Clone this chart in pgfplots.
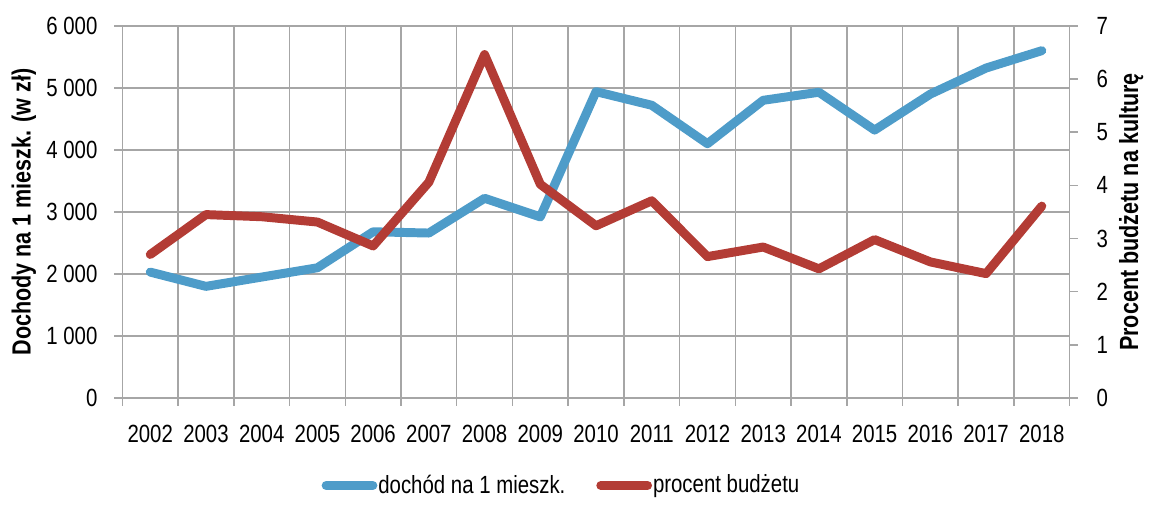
\documentclass[border=0pt]{standalone}
\usepackage{fontspec}
\setmainfont{Liberation Sans}[FakeStretch=0.82]
\usepackage{pgfplots}
\pgfplotsset{compat=1.18}
\definecolor{cblue}{HTML}{4E9CC9}
\definecolor{cred}{HTML}{B33C35}
\definecolor{cgrid}{HTML}{A6A6A6}
\begin{document}
\begin{tikzpicture}[font=\fontsize{12.5pt}{15pt}\selectfont]
\begin{axis}[name=ax, width=476pt, height=187pt, scale only axis,
  xmin=-0.5, xmax=16.5, ymin=0, ymax=6000,
  axis line style={cgrid, line width=0.75pt},
  xtick={-0.5,0.5,...,16.5},
  xticklabels={2002,2003,2004,2005,2006,2007,2008,2009,2010,2011,2012,2013,2014,2015,2016,2017,2018,{}},
  xticklabel style={xshift=14pt, yshift=-6pt},
  yticklabel style={xshift=-5pt},
  xtick pos=bottom, ytick pos=left, tick align=outside, major tick length=4pt,
  tick style={cgrid, line width=0.75pt},
  grid=major, grid style={cgrid, line width=0.75pt},
  ytick={0,1000,2000,3000,4000,5000,6000},
  yticklabels={0,1 000,2 000,3 000,4 000,5 000,6 000},
  ylabel={Dochody na 1 mieszk. (w zł)},
  ylabel style={font=\fontsize{13.2pt}{15pt}\selectfont\bfseries, at={(axis description cs:-0.104,0.5)}, anchor=center},
]
\addplot[cblue, line width=4.5pt, line join=round, line cap=round] coordinates {
(0,2030) (1,1800) (2,1950) (3,2100) (4,2680) (5,2660) (6,3220) (7,2920) (8,4940)
(9,4720) (10,4100) (11,4800) (12,4930) (13,4320) (14,4900) (15,5320) (16,5600)};
\end{axis}
\begin{axis}[width=476pt, height=187pt, scale only axis,
  xmin=-0.5, xmax=16.5, ymin=0, ymax=7,
  hide x axis, axis y line*=right,
  every outer y axis line/.append style={-},
  y axis line style={-, cgrid, line width=0.75pt},
  tick align=outside, major tick length=4pt,
  tick style={cgrid, line width=0.75pt},
  ytick={0,1,2,3,4,5,6,7},
  yticklabels={0,1,2,3,4,5,6,7},
  yticklabel style={xshift=6pt},
  ylabel={Procent budżetu na kulturę},
  ylabel style={font=\fontsize{13.2pt}{15pt}\selectfont\bfseries, at={(axis description cs:1.065,0.5)}, anchor=center},
  legend style={at={(axis description cs:0.463,-0.235)}, anchor=center, draw=none, fill=none,
    legend columns=2, /tikz/every even column/.append style={column sep=15pt},
    nodes={inner xsep=0.5pt},
    font=\fontsize{12.5pt}{15pt}\selectfont},
  legend image code/.code={\draw[#1, line cap=round] (0pt,0pt) -- (23.5pt,0pt);},
]
\addlegendimage{cblue, line width=4.5pt}
\addlegendentry{dochód na 1 mieszk.}
\addplot[cred, line width=4.5pt, line join=round, line cap=round] coordinates {
(0,2.70) (1,3.45) (2,3.41) (3,3.31) (4,2.86) (5,4.06) (6,6.46) (7,4.02) (8,3.24)
(9,3.71) (10,2.66) (11,2.84) (12,2.43) (13,2.98) (14,2.56) (15,2.34) (16,3.61)};
\addlegendentry{procent budżetu}
\end{axis}
\path ([shift={(-61.5pt,-50pt)}]ax.south west) rectangle ([shift={(37.5pt,13pt)}]ax.north east);
\end{tikzpicture}
\end{document}
